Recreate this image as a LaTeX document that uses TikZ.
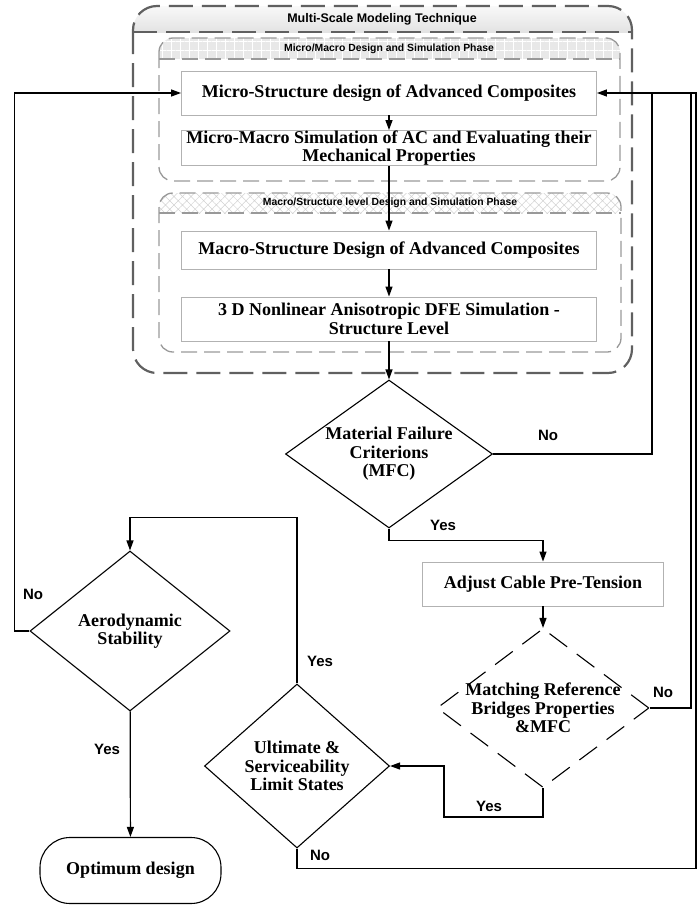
\documentclass[tikz,border=0pt]{standalone}
\usepackage{fontspec}
\setmainfont{Liberation Serif}
\setsansfont{Liberation Sans}
\usetikzlibrary{shapes.geometric,arrows.meta,patterns.meta}

\begin{document}
\begin{tikzpicture}[x=1pt,y=-1pt]
            \tikzstyle{stage}=[rectangle, draw=gray!60, fill=white, line width=0.9pt,
            minimum width=415pt, inner sep=0pt, align=center,
            font=\bfseries\fontsize{18}{18.5}\selectfont]
            \tikzstyle{test}=[diamond, draw, line width=1.1pt, aspect=1.3,
            inner sep=-12pt, align=center, font=\bfseries\fontsize{18}{18.5}\selectfont]
            \tikzstyle{tag}=[inner sep=0pt, font=\sffamily\bfseries\fontsize{15}{15}\selectfont]
            \tikzstyle{phase}=[inner sep=0pt, font=\sffamily\bfseries\fontsize{10.4}{11}\selectfont]
            \tikzstyle{hull}=[draw=gray!75!black, line width=2.2pt, dash pattern=on 24pt off 9pt]
            \tikzstyle{shell}=[draw=gray!80, line width=1.3pt, dash pattern=on 16pt off 7pt]
            \tikzstyle{flow}=[line width=1.2pt, -{Triangle[length=10pt,width=7pt]}]
            \tikzstyle{wire}=[line width=1.2pt]
            \useasboundingbox (0,0) rectangle (697,905);
            \begin{scope}
            \clip[rounded corners=24pt] (133,6) rectangle (632,373);
            \shade[top color=gray!5, bottom color=gray!22] (133,6) rectangle (632,32);
            \end{scope}
            \draw[hull, rounded corners=24pt] (133,6) rectangle (632,373);
            \draw[hull] (133,32) -- (632,32);
            \begin{scope}
            \clip[rounded corners=14pt] (159,38) rectangle (620,181);
            \fill[gray!18] (159,38) rectangle (620,59);
            \fill[pattern={Hatch[angle=0,distance=9pt,line width=0.8pt]}, pattern color=white]
            (159,38) rectangle (620,59);
            \end{scope}
            \draw[shell, rounded corners=14pt] (159,38) rectangle (620,181);
            \draw[shell] (159,59) -- (620,59);
            \begin{scope}
            \clip[rounded corners=14pt] (159,193) rectangle (621,352);
            \fill[pattern={Hatch[angle=45,distance=6pt,line width=0.5pt]}, pattern color=gray!35]
            (159,193) rectangle (621,213);
            \end{scope}
            \draw[shell, rounded corners=14pt] (159,193) rectangle (621,352);
            \draw[shell] (159,213) -- (621,213);
            \node[font=\sffamily\bfseries\fontsize{12.5}{13}\selectfont] (scale) at (382,19)
            {Multi-Scale Modeling Technique};
            \node[phase] (microphase) at (389,48.5) {Micro/Macro Design and Simulation Phase};
            \node[phase] (macrophase) at (390,203) {Macro/Structure level Design and Simulation Phase};
            \node[stage, minimum height=44pt] (micro) at (389,93)
            {Micro-Structure design of Advanced Composites};
            \node[stage, minimum height=32pt] (micmac) at (389,148)
            {Micro-Macro Simulation of AC and Evaluating their\\Mechanical Properties};
            \node[stage, minimum height=38pt] (macro) at (389,250)
            {Macro-Structure Design of Advanced Composites};
            \node[stage, minimum height=44pt] (dfe) at (389,319)
            {3 D Nonlinear Anisotropic DFE Simulation -\\Structure Level};
            \node[test, minimum width=207pt, minimum height=148pt] (mfc) at (389,454)
            {Material Failure\\Criterions\\(MFC)};
            \node[stage, minimum width=241pt, minimum height=44pt] (cable) at (543,584)
            {Adjust Cable Pre-Tension};
            \node[test, dash pattern=on 22pt off 12pt, minimum width=212pt, minimum height=159pt]
            (match) at (543,708) {Matching Reference\\Bridges Properties\\\&MFC};
            \node[test, minimum width=185pt, minimum height=164pt] (limit) at (297,766)
            {Ultimate \&\\Serviceability\\Limit States};
            \node[test, minimum width=200pt, minimum height=160pt] (aero) at (130,631)
            {Aerodynamic\\Stability};
            \node[draw, line width=1.1pt, rounded corners=30pt, minimum width=181pt,
            minimum height=66pt, font=\bfseries\fontsize{18}{18.5}\selectfont]
            (optimum) at (130.5,870.5) {Optimum design};
            \coordinate (jA) at (652,93);
            \coordinate (jB) at (691,93);
            \coordinate (jC) at (696,93);
            \path
            (micro) edge [flow] (micmac)
            (micmac) edge [flow] (macro)
            (macro) edge [flow] (dfe)
            (dfe) edge [flow] (mfc)
            (cable) edge [flow] (match)
            (aero) edge [flow] (optimum);
            \draw[wire] (mfc.east) -| (jA);
            \draw[wire] (match.east) -| (jB);
            \draw[flow] (limit.south) -- ++(0,20) -| (jC) -- (micro.east);
            \draw[flow] (mfc.south) -- ++(0,12) -| (cable.north);
            \draw[flow] (match.south) -- ++(0,29) -- ++(-99,0) |- (limit.east);
            \draw[flow] (limit.north) -- ++(0,-166) -| (aero.north);
            \draw[flow] (aero.west) -- ++(-15,0) |- (micro.west);
            \node[tag] (noA) at (548,435) {No};
            \node[tag] (yesA) at (443,525) {Yes};
            \node[tag] (noB) at (663,692) {No};
            \node[tag] (yesB) at (489,806) {Yes};
            \node[tag] (noC) at (320,855) {No};
            \node[tag] (yesC) at (320,661) {Yes};
            \node[tag] (noD) at (33,594) {No};
            \node[tag] (yesD) at (107,749) {Yes};
        \end{tikzpicture}
\end{document}
